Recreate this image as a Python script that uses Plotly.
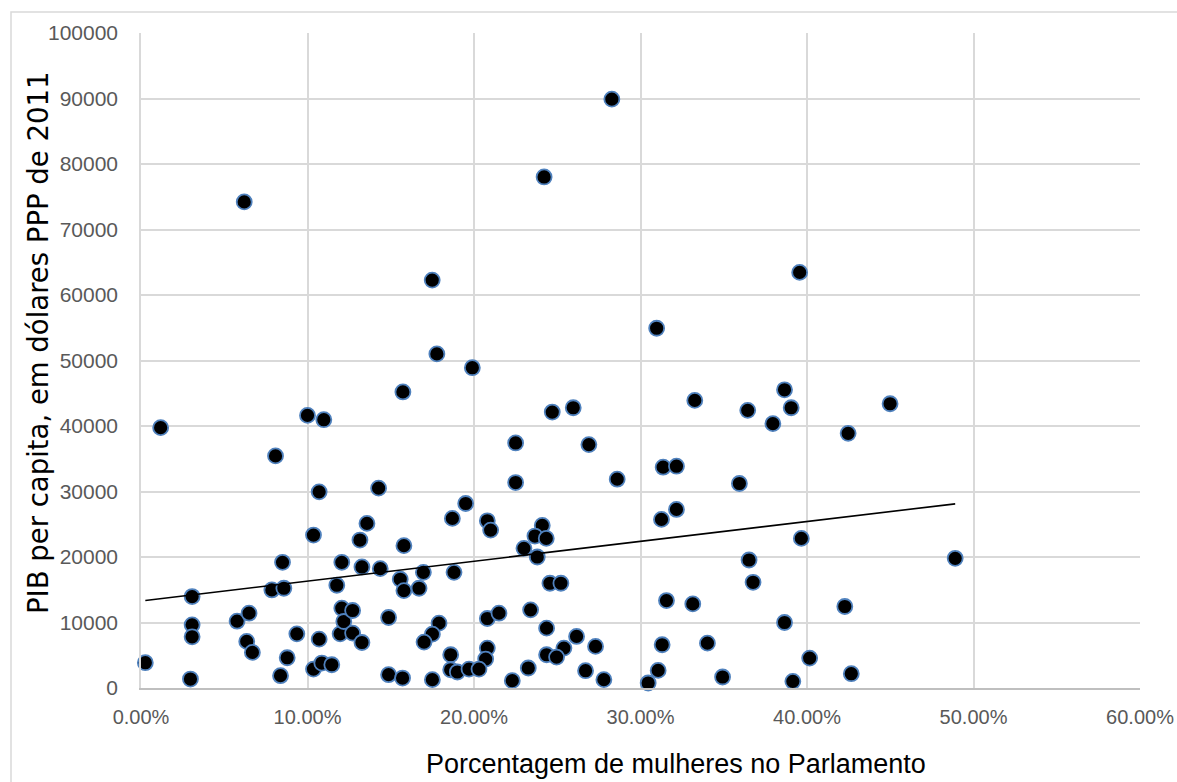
import numpy as np
import plotly.graph_objects as go

# Percentage of women in parliament (%), GDP per capita (2011 PPP $)
women_pct = [
    0.26, 1.18, 2.97, 3.07, 3.07, 3.07, 5.77, 6.35, 6.49, 6.69,
    7.86, 8.08, 8.38, 8.50, 8.58, 8.78, 9.36, 10.0, 10.36, 10.36,
    10.70, 10.70, 10.86, 10.98, 11.46, 11.76, 11.96, 12.06, 12.06, 12.18,
    12.71, 12.71, 13.15, 13.27, 13.27, 13.57, 14.27, 14.37, 14.87, 14.87,
    15.57, 15.71, 15.73, 15.79, 15.79,
    19.9, 24.7, 25.96, 22.5, 26.9, 22.5, 28.6, 31.36, 32.16, 19.5,
    18.7, 20.8, 21.0, 24.1, 23.66, 24.34, 31.26, 32.16, 23.0, 23.8,
    16.96, 18.8, 16.7, 24.56, 25.22, 31.56, 17.9, 17.5, 17.0, 20.8,
    21.5, 23.4, 24.36, 26.16, 25.4, 27.3, 20.8, 20.7, 18.6, 24.36,
    24.96, 31.3, 31.06, 18.6, 19.0, 19.7, 20.3, 23.26, 26.7, 17.5,
    22.3, 27.8, 30.46,
    33.26, 36.44, 38.65, 39.05, 37.95, 44.99, 42.47, 35.94, 39.66, 48.9,
    36.52, 36.76, 33.14, 42.27, 38.65, 34.02, 40.16, 34.93, 39.15, 42.66,
    28.28, 24.21, 6.20, 17.49, 30.97, 17.77, 39.56,
]
gdp_pc = [
    3860, 39750, 1370, 13960, 9640, 7820, 10200, 7110, 11420, 5430,
    14970, 35430, 1880, 19190, 15230, 4620, 8270, 41620, 23350, 2890,
    29950, 7460, 3810, 40960, 3550, 15690, 8270, 19190, 12180, 10150,
    11830, 8380, 22590, 18480, 6950, 25130, 30510, 18220, 10760, 2030,
    16600, 1520, 45200, 21730, 14870,
    48900, 42130, 42790, 37410, 37160, 31370, 31880, 33710, 33860, 28170,
    25890, 25530, 24110, 24820, 23200, 22840, 25740, 27260, 21320, 20000,
    17660, 17660, 15230, 15990, 15990, 13350, 9900, 8220, 7010, 10610,
    11420, 11930, 9140, 7870, 6090, 6350, 6090, 4420, 5080, 5080,
    4720, 6600, 2690, 2790, 2440, 2890, 2890, 3050, 2640, 1270,
    1120, 1270, 760,
    43910, 42390, 45530, 42790, 40360, 43400, 38880, 31220, 22840, 19800,
    19540, 16140, 12840, 12440, 10000, 6850, 4570, 1680, 1020, 2180,
    89900, 78020, 74210, 62280, 54920, 51010, 63450,
]

x_ticks = [0.0, 0.1, 0.2, 0.3, 0.4, 0.5, 0.6]
x_tick_labels = ["0.00%", "10.00%", "20.00%", "30.00%", "40.00%", "50.00%", "60.00%"]
y_ticks = [0, 10000, 20000, 30000, 40000, 50000, 60000, 70000, 80000, 90000, 100000]

x_title = "Porcentagem de mulheres no Parlamento"
y_title = "PIB per capita, em dólares PPP de 2011"

xs = np.array(women_pct) / 100.0
ys = np.array(gdp_pc, dtype=float)

# Linear trend line (least squares) over the data range
slope, intercept = np.polyfit(xs, ys, 1)
tx = np.array([xs.min(), xs.max()])
ty = intercept + slope * tx

L, R, T, B = 141, 37, 33, 94
W, H = 1177, 782
pw, ph = W - L - R, H - T - B

fig = go.Figure()
fig.add_trace(go.Scatter(
    x=xs, y=ys, mode="markers",
    marker=dict(size=15, color="black", line=dict(color="#4f81bd", width=1.8)),
    cliponaxis=False, showlegend=False,
))
fig.add_trace(go.Scatter(
    x=tx, y=ty, mode="lines",
    line=dict(color="black", width=1.6),
    showlegend=False,
))

x_tick_font = dict(family="Liberation Sans, Arial, sans-serif", size=20, color="#595959")
y_tick_font = dict(family="Liberation Sans, Arial, sans-serif", size=21, color="#595959")

fig.update_xaxes(
    range=[0, 0.6], tickvals=x_ticks, ticktext=x_tick_labels,
    showgrid=True, gridcolor="#d9d9d9", gridwidth=1.5,
    showline=True, linecolor="#bfbfbf", linewidth=1.5,
    zeroline=False, ticks="", tickfont=x_tick_font, ticklabelstandoff=10,
    automargin=False,
)
fig.update_yaxes(
    range=[0, 100000], tickvals=y_ticks, tickformat="d",
    showgrid=True, gridcolor="#d9d9d9", gridwidth=1.5,
    showline=True, linecolor="#d9d9d9", linewidth=1.5,
    zeroline=False, ticks="", tickfont=y_tick_font, ticklabelstandoff=17,
    automargin=False,
)

# Chart border (outer frame)
fig.add_shape(type="rect", xref="paper", yref="paper",
              x0=(11 - L) / pw, x1=1.2, y0=-0.3, y1=(H - B - 12) / ph,
              line=dict(color="#d9d9d9", width=1.5), fillcolor="rgba(0,0,0,0)",
              layer="below")

fig.add_annotation(
    text=x_title, xref="paper", yref="paper",
    x=(676 - L) / pw, y=(H - B - 764) / ph, showarrow=False,
    font=dict(family="Liberation Sans, Arial, sans-serif", size=27, color="black"),
    xanchor="center", yanchor="middle",
)
fig.add_annotation(
    text=y_title, xref="paper", yref="paper", textangle=-90,
    x=(38 - L) / pw, y=(H - B - 343) / ph, showarrow=False,
    font=dict(family="DejaVu Sans, sans-serif", size=27.5, color="black"),
    xanchor="center", yanchor="middle",
)

fig.update_layout(
    width=W, height=H,
    margin=dict(l=L, r=R, t=T, b=B),
    paper_bgcolor="white", plot_bgcolor="white",
)

fig.write_html("out.html", config={"displayModeBar": False},
               post_script="document.body.style.margin='0';document.body.style.overflow='hidden';")
